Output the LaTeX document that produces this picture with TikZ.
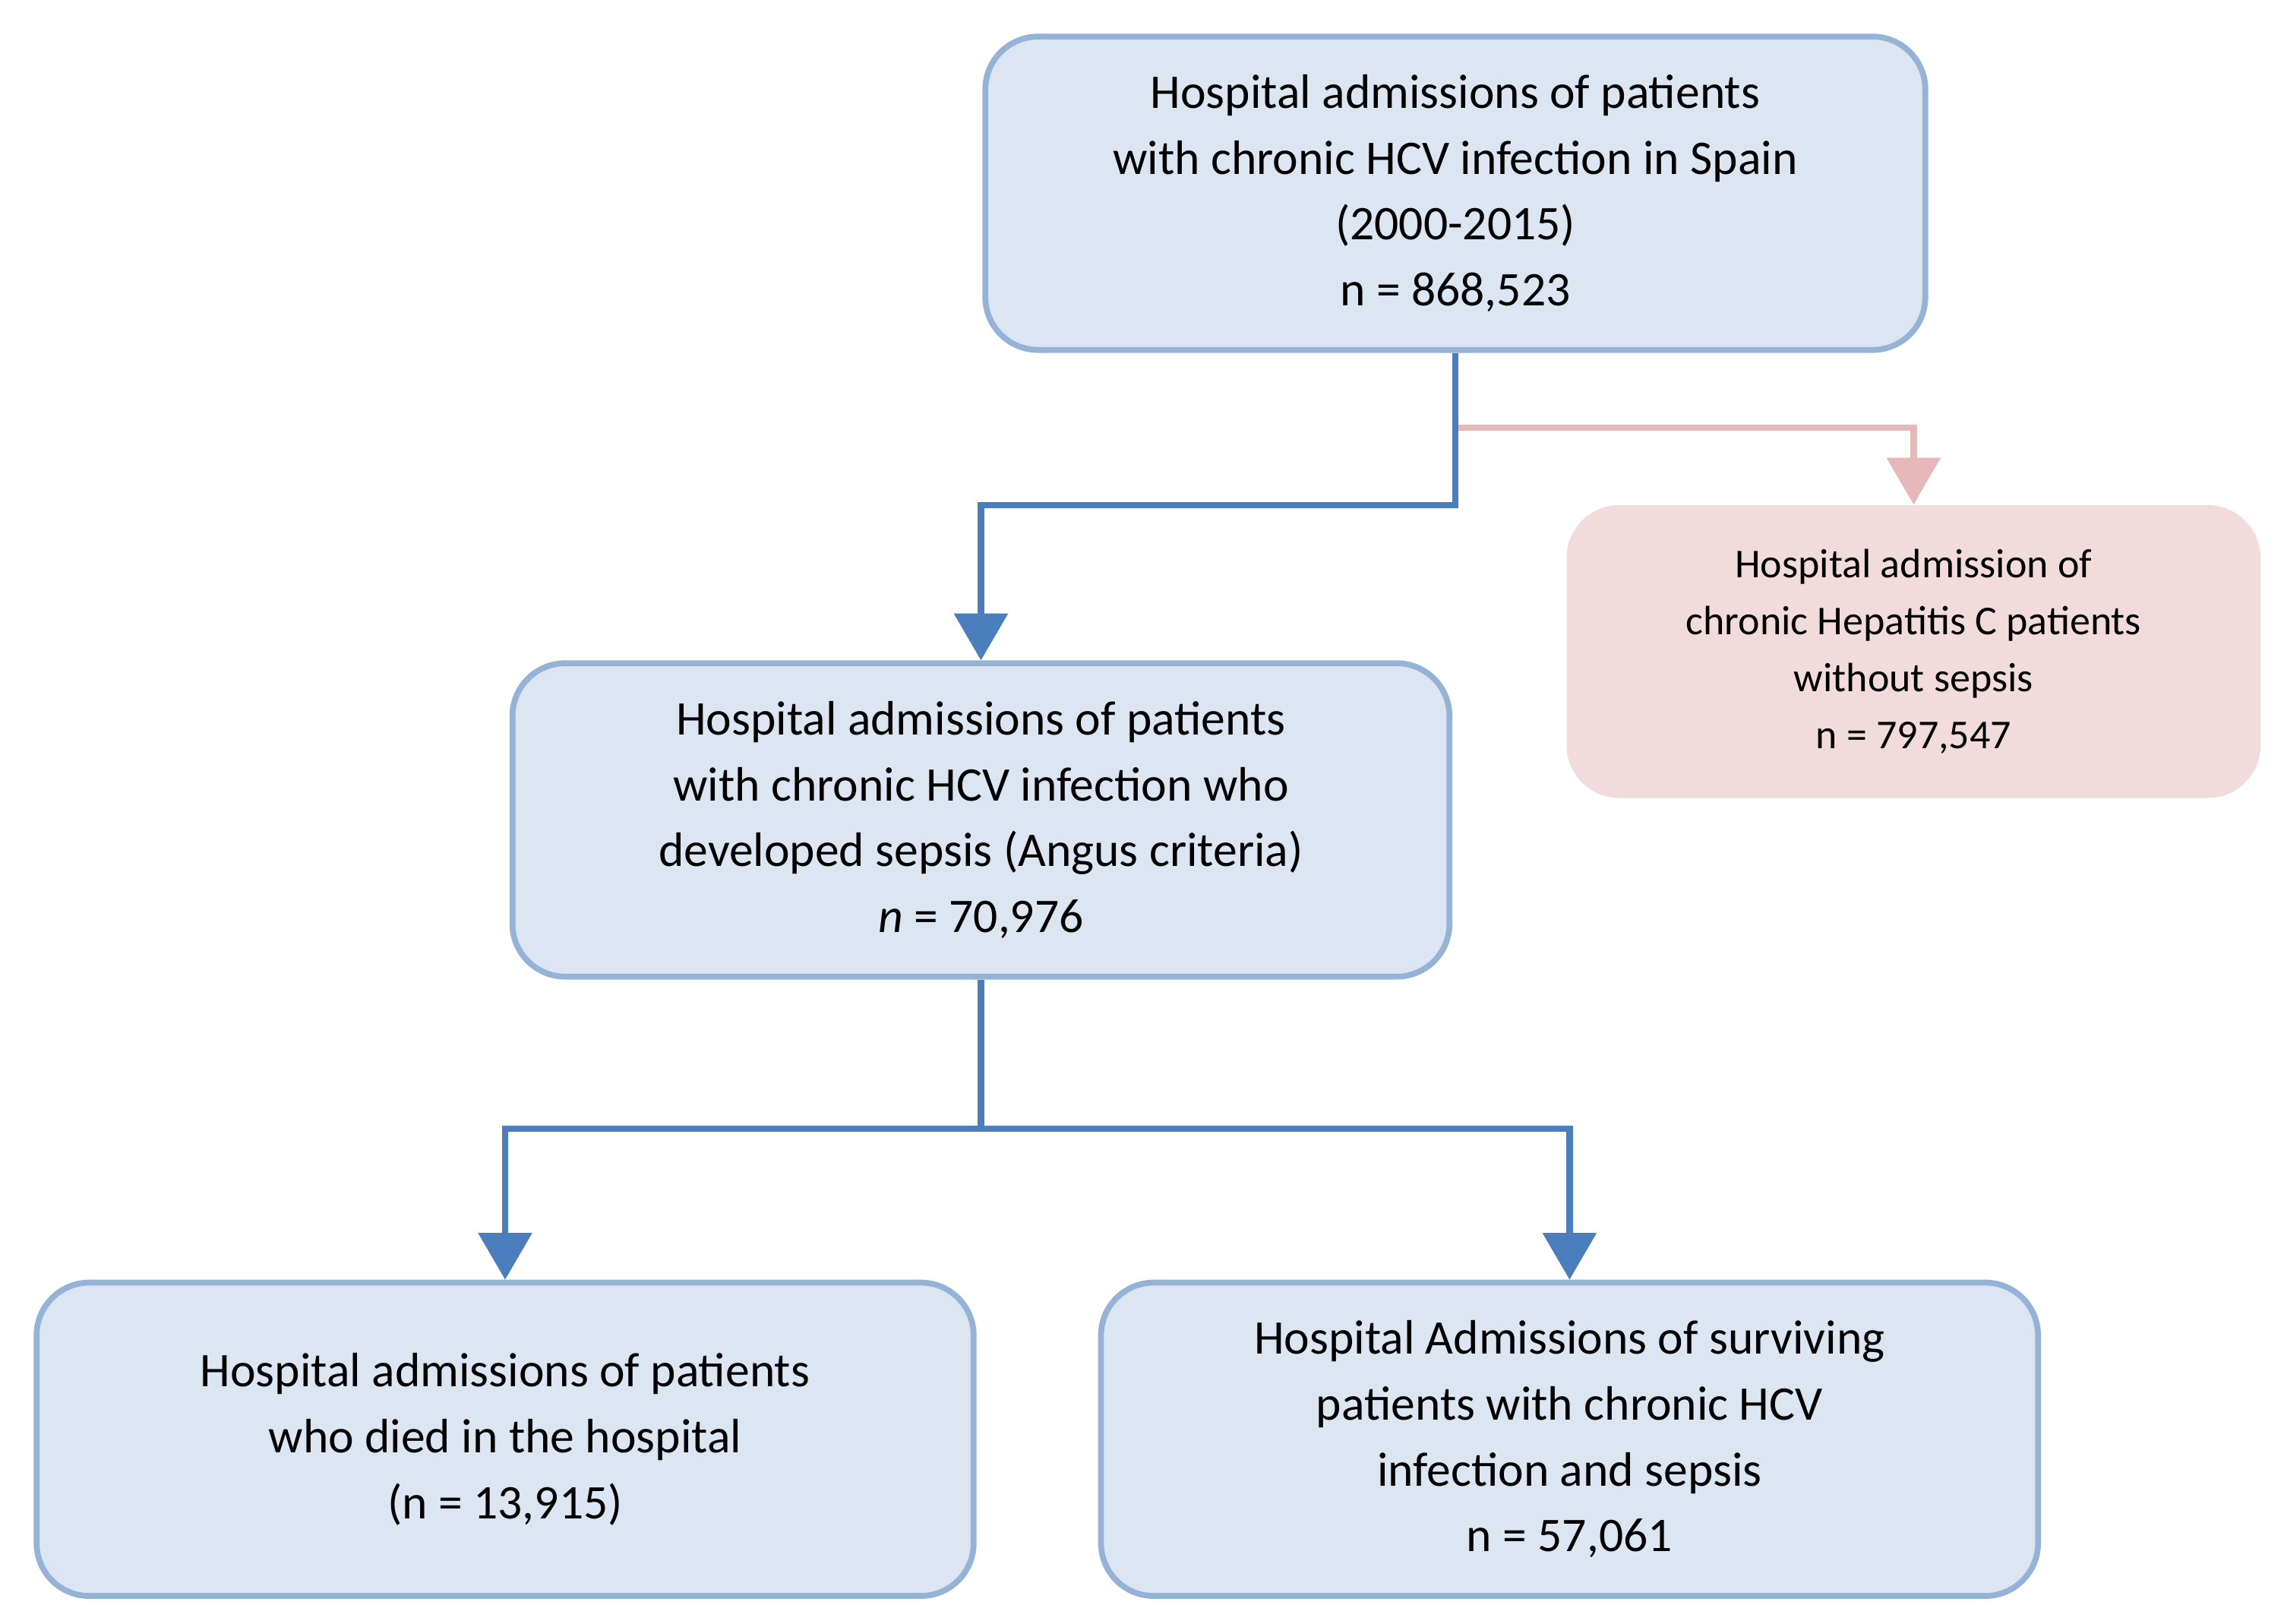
\documentclass[tikz,border=0pt]{standalone}
\usepackage{fontspec}
\setmainfont{Carlito}
\usetikzlibrary{arrows.meta}
\definecolor{bfill}{HTML}{DCE6F2}
\definecolor{bdraw}{HTML}{95B3D7}
\definecolor{barrow}{HTML}{4A7EBF}
\definecolor{pfill}{HTML}{F2DCDB}
\definecolor{parrow}{HTML}{E6B9B8}
\begin{document}
\begin{tikzpicture}[x=0.5pt,y=-0.5pt,
  bbox/.style={draw=bdraw,fill=bfill,line width=2pt,rounded corners=18pt,align=center,font=\fontsize{16.5}{22.5}\selectfont,inner sep=0pt},
  pbox/.style={fill=pfill,draw=none,rounded corners=18pt,align=center,font=\fontsize{14}{19.5}\selectfont,inner sep=0pt},
  barr/.style={draw=barrow,line width=2.2pt,-{Triangle[length=16pt,width=18pt]}},
  parr/.style={draw=parrow,line width=2.2pt,-{Triangle[length=16pt,width=18pt]}}]
\useasboundingbox (0,0) rectangle (1560,1109);
\node[bbox,minimum width=321pt,minimum height=107pt] (top) at (994,132) {Hospital admissions of patients\\with chronic HCV infection in Spain\\(2000-2015)\\n = 868,523};
\node[pbox,minimum width=237pt,minimum height=100pt] (pink) at (1307,445) {Hospital admission of\\chronic Hepatitis C patients\\without sepsis\\n = 797,547};
\node[bbox,minimum width=320pt,minimum height=107pt] (mid) at (670,560) {Hospital admissions of patients\\with chronic HCV infection who\\developed sepsis (Angus criteria)\\\textit{n} = 70,976};
\node[bbox,minimum width=320pt,minimum height=107pt] (bl) at (345,983) {Hospital admissions of patients\\who died in the hospital\\(n = 13,915)};
\node[bbox,minimum width=320pt,minimum height=107pt] (br) at (1072,983) {Hospital Admissions of surviving\\patients with chronic HCV\\infection and sepsis\\n = 57,061};
\coordinate (j1) at (994,292);
\draw[parr] (j1) -| (pink.north);
\draw[barr] (top.south) |- (670,345) -- (mid.north);
\coordinate (j2) at (670,771);
\draw[barrow,line width=2.2pt] (mid.south) -- (j2);
\draw[barr] (j2) -| (bl.north);
\draw[barr] (j2) -| (br.north);
\end{tikzpicture}
\end{document}
